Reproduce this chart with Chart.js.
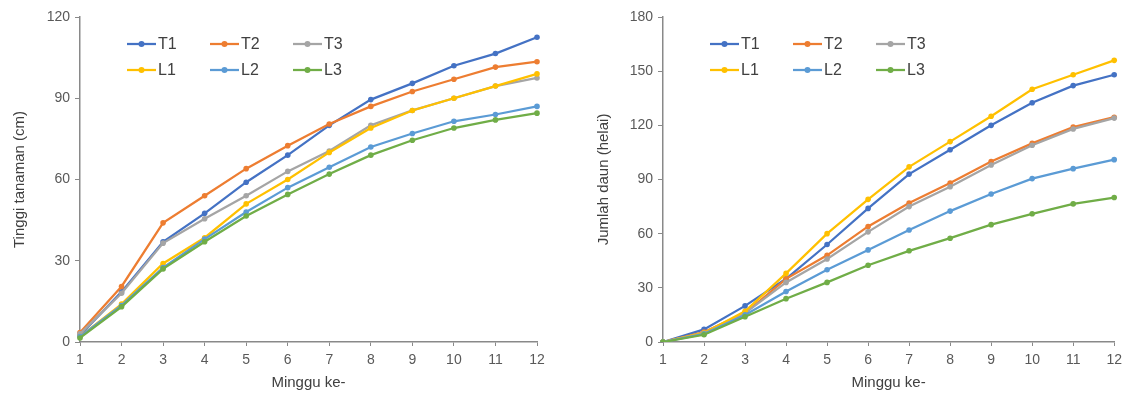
<!DOCTYPE html>
<html>
<head>
    <title>Tinggi tanaman dan jumlah daun</title>
    <script src="https://cdn.jsdelivr.net/npm/chart.js"></script>
    <style>
      body { margin: 0; background: #fff; }
      #wrap { position: relative; width: 1128px; height: 399px; }
      .box { position: absolute; top: 0; width: 564px; height: 399px; }
    </style>
</head>
<body>
  <div id="wrap">
    <div class="box" style="left:0"><canvas id="chartTinggi" width="564" height="399"></canvas></div>
    <div class="box" style="left:564px"><canvas id="chartDaun" width="564" height="399"></canvas></div>
  </div>

  <script type="text/javascript">
    // week labels
    var minggu = ['1','2','3','4','5','6','7','8','9','10','11','12'];
    var seriesNames = ['T1','T2','T3','L1','L2','L3'];
    var seriesColors = ['#4472C4','#ED7D31','#A5A5A5','#FFC000','#5B9BD5','#70AD47'];

    // Tinggi tanaman (cm)
    var tinggiT1 = [2.5, 18.5, 37, 47.5, 59, 69, 80, 89.5, 95.5, 102, 106.5, 112.5];
    var tinggiT2 = [3.5, 20.5, 44, 54, 64, 72.5, 80.5, 87, 92.5, 97, 101.5, 103.5];
    var tinggiT3 = [3, 18, 36.5, 45.5, 54, 63, 70.5, 80, 85.5, 90, 94.5, 97.5];
    var tinggiL1 = [2, 14, 29, 38.5, 51, 60, 70, 79, 85.5, 90, 94.5, 99];
    var tinggiL2 = [2, 13.5, 27.5, 38, 48, 57, 64.5, 72, 77, 81.5, 84, 87];
    var tinggiL3 = [1.5, 13, 27, 37, 46.5, 54.5, 62, 69, 74.5, 79, 82, 84.5];

    // Jumlah daun (helai)
    var daunT1 = [0, 7, 20, 35, 54, 74, 93, 106.5, 120, 132.5, 142, 148];
    var daunT2 = [0, 5.5, 16, 35, 48, 64, 77, 88, 100, 110, 119, 124.5];
    var daunT3 = [0, 5, 16, 33, 46, 61, 75, 86, 98, 109, 118, 124];
    var daunL1 = [0, 5, 17, 38, 60, 79, 97, 111, 125, 140, 148, 156];
    var daunL2 = [0, 4.5, 15, 28, 40, 51, 62, 72.5, 82, 90.5, 96, 101];
    var daunL3 = [0, 4, 14, 24, 33, 42.5, 50.5, 57.5, 65, 71, 76.5, 80];

    var fontFam = '"Liberation Sans", Arial, sans-serif';
    var textCol = '#595959';
    var axisCol = '#898989';

    // legend drawn inside the plot, 3 columns x 2 rows
    var innerLegend = {
      id: 'innerLegend',
      afterDatasetsDraw: function(chart) {
        var ctx = chart.ctx;
        var a = chart.chartArea;
        var o = chart.options.plugins.innerLegend;
        chart.data.datasets.forEach(function(ds, i) {
          var x = a.left + o.x + (i % 3) * o.colW;
          var y = o.y + Math.floor(i / 3) * o.rowH;
          ctx.save();
          ctx.strokeStyle = ds.borderColor;
          ctx.lineWidth = 2.25;
          ctx.beginPath();
          ctx.moveTo(x, y);
          ctx.lineTo(x + 29, y);
          ctx.stroke();
          ctx.fillStyle = ds.borderColor;
          ctx.beginPath();
          ctx.arc(x + 14.5, y, 3, 0, Math.PI * 2);
          ctx.fill();
          ctx.fillStyle = '#404040';
          ctx.font = '16px ' + fontFam;
          ctx.textBaseline = 'middle';
          ctx.fillText(ds.label, x + 31, y + 1);
          ctx.restore();
        });
      }
    };

    function makeSets(arrs) {
      return arrs.map(function(d, i) {
        return {
          label: seriesNames[i],
          data: d,
          borderColor: seriesColors[i],
          backgroundColor: seriesColors[i],
          borderWidth: 2.25,
          pointRadius: 2.8,
          pointBorderWidth: 0,
          tension: 0,
          order: 5 - i
        };
      });
    }

    function makeChart(id, sets, yTitle, yMax, padLeft, yWidth, padRight) {
      new Chart(document.getElementById(id).getContext('2d'), {
        type: 'line',
        data: { labels: minggu, datasets: sets },
        options: {
          responsive: false,
          animation: false,
          layout: { padding: { left: padLeft, right: padRight, top: 17, bottom: 4 } },
          plugins: {
            legend: { display: false },
            tooltip: { enabled: false },
            innerLegend: { x: 47, y: 44, colW: 83, rowH: 26 }
          },
          scales: {
            x: {
              offset: false,
              border: { color: axisCol, width: 1.5 },
              grid: { drawOnChartArea: false, drawTicks: true, tickLength: 4, color: axisCol },
              ticks: { color: textCol, font: { family: fontFam, size: 14 }, padding: 6, maxRotation: 0 },
              title: { display: true, text: 'Minggu ke-', color: '#404040',
                       font: { family: fontFam, size: 15 }, padding: { top: 4, bottom: 3 } },
              afterFit: function(s) { s.height = 399 - 342 - 4; }
            },
            y: {
              min: 0, max: yMax,
              border: { color: axisCol, width: 1.5 },
              grid: { drawOnChartArea: false, drawTicks: true, tickLength: 5, color: axisCol },
              ticks: { stepSize: 30, color: textCol, font: { family: fontFam, size: 14 }, padding: 5 },
              title: { display: true, text: yTitle, color: '#404040',
                       font: { family: fontFam, size: 15 }, padding: { top: 5, bottom: 4 } },
              afterFit: function(s) { s.width = yWidth; }
            }
          }
        },
        plugins: [innerLegend]
      });
    }

    makeChart('chartTinggi',
      makeSets([tinggiT1, tinggiT2, tinggiT3, tinggiL1, tinggiL2, tinggiL3]),
      'Tinggi tanaman (cm)', 120, 6, 74, 27);
    makeChart('chartDaun',
      makeSets([daunT1, daunT2, daunT3, daunL1, daunL2, daunL3]),
      'Jumlah daun (helai)', 180, 26, 73, 11);
  </script>
</body>
</html>
